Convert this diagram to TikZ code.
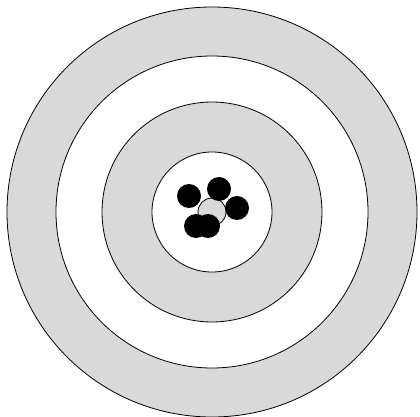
\documentclass[tikz,border=0pt]{standalone}
\usepackage{tikz}

\begin{document}
\begin{tikzpicture}[x=1pt,y=-1pt,line width=0.8pt]
\useasboundingbox (0,0) rectangle (420,417);
% target rings, outside in
\foreach \r/\c in {205/gray!30,156/white,110/gray!30,60/white}{\filldraw[fill=\c] (212,212) circle (\r);}
\filldraw[fill=gray!30] (212,212) circle (14);
% shots
\foreach \x/\y in {189/196,219/189,237/208,196/226,208/226}{\fill (\x,\y) circle (12);}
\end{tikzpicture}
\end{document}
